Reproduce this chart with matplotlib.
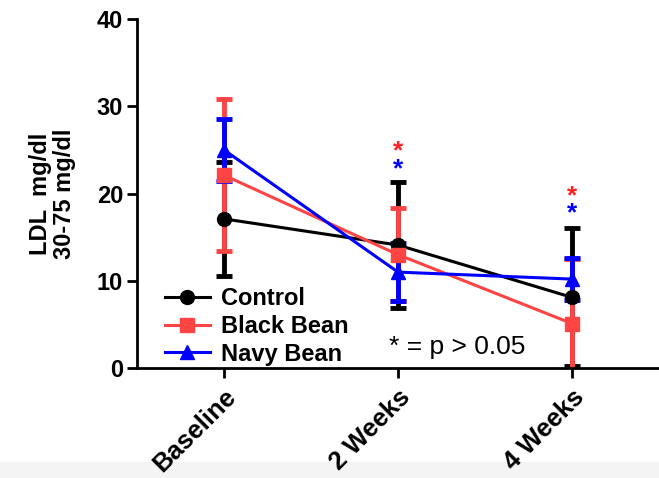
import matplotlib.pyplot as plt
from matplotlib.lines import Line2D
from matplotlib.patches import Rectangle

plt.rcParams['font.family'] = ['Liberation Sans', 'DejaVu Sans']

timepoints = ["Baseline", "2 Weeks", "4 Weeks"]
control = [17.1, 14.1, 8.1]
control_err = [6.5, 7.2, 7.9]
black_bean = [22.1, 13.0, 5.1]
black_bean_err = [8.7, 5.3, 7.4]
navy_bean = [25.0, 11.0, 10.2]
navy_bean_err = [3.5, 3.3, 2.4]
# significance stars: (x index, y for red star, y for blue star)
star_x = [1, 2]
star_red_y = [24.9, 19.7]
star_blue_y = [22.8, 17.7]

fig = plt.figure(figsize=(6.59, 4.78), dpi=100)
fig.patches.append(Rectangle((0, 0), 1, 16 / 478, transform=fig.transFigure,
                             color="#f4f4f4", zorder=-10))
ax = fig.add_axes([0.208, 0.230, 0.792, 0.730])

x = range(len(timepoints))
series = [
    ("Control", control, control_err, "black", "o"),
    ("Black Bean", black_bean, black_bean_err, "#ff4444", "s"),
    ("Navy Bean", navy_bean, navy_bean_err, "#0000ff", "^"),
]
handles = []
for label, vals, errs, col, mk in series:
    ax.errorbar(x, vals, yerr=errs, color=col, marker=mk, markersize=10,
                linewidth=2.2, elinewidth=3.5, capsize=5.5, capthick=3.5,
                clip_on=True)
    handles.append(Line2D([], [], color=col, marker=mk, markersize=10,
                          linewidth=2.2, label=label))

for xi, yr, yb in zip(star_x, star_red_y, star_blue_y):
    ax.text(xi, yr, "*", color="#ff2222", fontsize=19, fontweight="bold",
            ha="center", va="center")
    ax.text(xi, yb, "*", color="#0000ff", fontsize=19, fontweight="bold",
            ha="center", va="center")

ax.text(0.95, 2.4, "* = p > 0.05", fontsize=19, ha="left", va="center")

ax.set_xlim(-0.5, 2.5)
ax.set_ylim(0, 40)
ax.set_yticks([0, 10, 20, 30, 40])
ax.set_xticks(list(x))
ax.set_xticklabels(timepoints, rotation=45, ha="right", rotation_mode="anchor",
                   fontsize=18.5, fontweight="bold")
for lab in ax.get_yticklabels():
    lab.set_fontsize(17)
    lab.set_fontweight("bold")
ax.tick_params(axis="both", width=2, length=7, direction="out", pad=3)
ax.tick_params(axis="x", pad=5)

for side in ["top", "right"]:
    ax.spines[side].set_visible(False)
for side in ["left", "bottom"]:
    ax.spines[side].set_linewidth(2)

ax.set_ylabel("LDL  mg/dl\n30-75 mg/dl", fontsize=17, fontweight="bold",
              labelpad=15, linespacing=1.05)

ax.legend(handles=handles, loc="lower left", bbox_to_anchor=(0.035, -0.02),
          frameon=False, prop={"size": 17, "weight": "bold"},
          handlelength=1.9, handletextpad=0.5, labelspacing=0.2,
          borderaxespad=0.0)

fig.savefig("out.png", dpi=100)
